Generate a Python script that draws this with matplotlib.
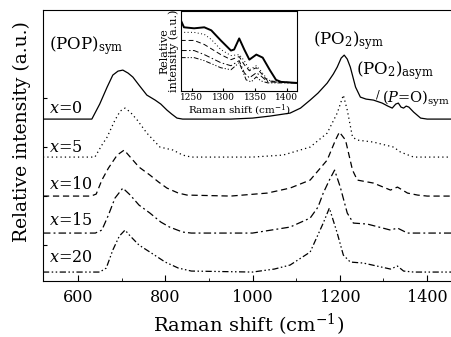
import numpy as np
import matplotlib
matplotlib.use("Agg")
import matplotlib.pyplot as plt
from matplotlib.ticker import MultipleLocator, NullLocator, FixedLocator

plt.rcParams['font.family'] = 'DejaVu Serif'
plt.rcParams['mathtext.fontset'] = 'dejavuserif'

# ---- main spectra (Raman shift, relative intensity with offsets) ----
wn0 = [520, 600, 632, 650, 667, 680, 692, 703, 715, 726, 740, 758, 777, 790, 804, 815, 827, 840,
       900, 950, 1000, 1040, 1086, 1110, 1132, 1150, 1171, 1185, 1194, 1203, 1210, 1217, 1224,
       1236, 1247, 1260, 1277, 1297, 1310, 1320, 1328, 1334, 1340, 1346, 1352, 1358, 1369, 1385,
       1400, 1460]
int0 = [162, 162, 162, 177, 194, 206, 210, 211, 208, 204, 196, 186, 181, 177, 171, 167, 163, 162,
        162, 162, 163, 165, 168, 173, 181, 188, 198, 207, 214, 223, 226, 222, 214,
        194, 184, 182, 181, 178, 175, 173, 177, 178, 174, 173, 175, 174, 169, 163,
        162, 162]

wn5 = [520, 639, 655, 667, 685, 697, 708, 720, 736, 758, 788, 818, 840, 860, 1000, 1070, 1132,
       1171, 1194, 1208, 1217, 1229, 1240, 1277, 1323, 1339, 1369, 1460]
int5 = [124, 124, 136, 144, 161, 170, 173, 169, 161, 148, 134, 131, 126, 124, 124, 126, 134,
        148, 168, 186, 171, 144, 141, 139, 134, 129, 124, 124]

wn10 = [520, 630, 642, 655, 670, 690, 706, 720, 740, 765, 785, 804, 830, 850, 950, 1034, 1086,
        1132, 1171, 1190, 1199, 1213, 1229, 1240, 1277, 1316, 1332, 1355, 1378, 1400, 1460]
int10 = [85, 85, 87, 101, 113, 126, 131, 124, 114, 106, 99, 93, 88, 86, 85, 88, 93,
         101, 121, 141, 149, 141, 111, 101, 98, 91, 94, 88, 86, 85, 85]

wn15 = [520, 640, 655, 670, 685, 703, 720, 740, 765, 790, 810, 840, 860, 1000, 1086, 1132, 1150,
        1162, 1176, 1188, 1201, 1217, 1231, 1263, 1316, 1332, 1355, 1460]
int15 = [48, 48, 51, 66, 83, 93, 86, 76, 68, 59, 54, 49, 48, 48, 54, 63, 74,
         88, 101, 111, 94, 68, 58, 57, 51, 53, 48, 48]

wn20 = [520, 650, 665, 680, 695, 708, 720, 740, 765, 800, 830, 860, 1000, 1050, 1086, 1132, 1162,
        1176, 1194, 1208, 1224, 1254, 1316, 1332, 1346, 1369, 1460]
int20 = [9, 9, 13, 31, 45, 51, 45, 36, 29, 19, 13, 10, 9, 12, 16, 29, 58,
         73, 48, 26, 19, 18, 12, 15, 10, 9, 9]

labels = ['$x$=0', '$x$=5', '$x$=10', '$x$=15', '$x$=20']
label_y = [173, 134, 97, 61, 24]
ytick_pos = [36, 85, 134, 183]

# ---- inset (1233-1415 cm-1) ----
wn_in0 = [1233, 1238, 1254, 1270, 1281, 1296, 1312, 1317, 1325, 1333, 1341, 1352, 1362, 1373,
          1383, 1391, 1415]
in0 = [70, 63, 62, 63, 60, 50, 40, 41, 52, 41, 31, 36, 33, 21, 11, 9, 8]
wn_in5 = [1233, 1254, 1270, 1281, 1296, 1312, 1325, 1333, 1341, 1352, 1359, 1370, 1381, 1415]
in5 = [58, 58, 56, 51, 41, 35, 36, 30, 21, 25, 20, 11, 9, 8]
wn_in10 = [1233, 1254, 1270, 1296, 1312, 1325, 1333, 1341, 1352, 1359, 1370, 1415]
in10 = [50, 50, 46, 36, 31, 34, 26, 20, 23, 18, 10, 8]
wn_in15 = [1233, 1254, 1270, 1296, 1312, 1325, 1333, 1341, 1352, 1359, 1370, 1415]
in15 = [40, 40, 36, 28, 25, 30, 18, 13, 18, 15, 9, 8]
wn_in20 = [1233, 1254, 1270, 1296, 1312, 1325, 1336, 1344, 1352, 1359, 1370, 1415]
in20 = [33, 33, 30, 23, 21, 28, 11, 9, 14, 10, 8, 8]

styles = [dict(ls='-'), dict(ls=(0, (1, 2.5))), dict(ls=(0, (5, 3))),
          dict(ls=(0, (6, 2.5, 1.5, 2.5))), dict(ls=(0, (5, 2, 1.2, 2, 1.2, 2)))]

fig = plt.figure(figsize=(4.52, 3.37), dpi=100)
ax = fig.add_axes([0.095, 0.166, 0.908, 0.804])

main = [(wn0, int0), (wn5, int5), (wn10, int10), (wn15, int15), (wn20, int20)]
for (w, y), st in zip(main, styles):
    ax.plot(w, y, color='black', lw=0.9, **st)

for lab, yy in zip(labels, label_y):
    ax.text(535, yy, lab, fontsize=11.5, va='center', ha='left')

ax.text(535, 236, '(POP)$_{\\mathrm{sym}}$', fontsize=12, va='center')
ax.text(1139, 241, '(PO$_2$)$_{\\mathrm{sym}}$', fontsize=12, va='center')
ax.text(1236, 211, '(PO$_2$)$_{\\mathrm{asym}}$', fontsize=12, va='center')
ax.text(1282, 187, '/', fontsize=8, va='center')
ax.text(1296, 182, '($P$=O)$_{\\mathrm{sym}}$', fontsize=10.5, va='center')

ax.set_xlim(520, 1460)
ax.set_ylim(0, 271)
ax.xaxis.set_major_locator(MultipleLocator(200))
ax.xaxis.set_minor_locator(MultipleLocator(100))
ax.yaxis.set_major_locator(FixedLocator(ytick_pos))
ax.set_yticklabels([])
ax.tick_params(axis='x', which='both', direction='in', top=False, labelsize=11.5, pad=6)
ax.tick_params(axis='x', which='major', length=4)
ax.tick_params(axis='x', which='minor', length=2.5)
ax.tick_params(axis='y', direction='in', length=3)
ax.spines['right'].set_visible(False)
ax.set_xlabel('Raman shift (cm$^{-1}$)', fontsize=14, labelpad=4)
ax.set_ylabel('Relative intensity (a.u.)', fontsize=13.5)
ax.yaxis.set_label_coords(-0.028, 0.55)

# inset
axi = fig.add_axes([0.400, 0.730, 0.257, 0.237])
inset = [(wn_in0, in0), (wn_in5, in5), (wn_in10, in10), (wn_in15, in15), (wn_in20, in20)]
for i, ((w, y), st) in enumerate(zip(inset, styles)):
    axi.plot(w, y, color='black', lw=1.4 if i == 0 else 0.7, **st)
axi.set_xlim(1233, 1416)
axi.set_ylim(0, 79)
axi.xaxis.set_major_locator(MultipleLocator(50))
axi.yaxis.set_major_locator(NullLocator())
axi.tick_params(axis='x', direction='in', length=2, labelsize=6.5, pad=1.5)
axi.set_xlabel('Raman shift (cm$^{-1}$)', fontsize=7.5, labelpad=0.5)
axi.set_ylabel('Relative\nintensity (a.u.)', fontsize=8, labelpad=1, linespacing=0.9)
axi.patch.set_alpha(0)

fig.savefig('out.png', dpi=100)
